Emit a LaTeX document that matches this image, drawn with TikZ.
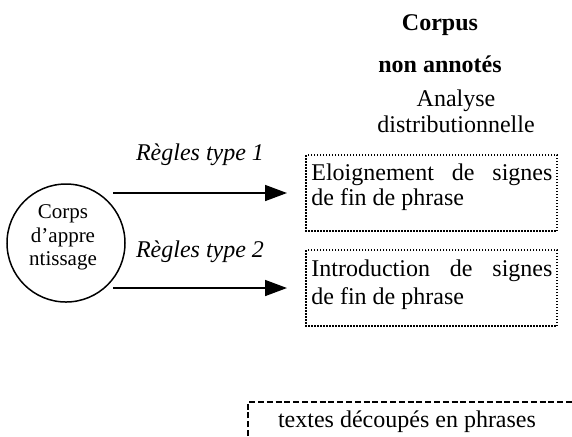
\documentclass[tikz,border=0pt]{standalone}
\usepackage{fontspec}
\setmainfont{Liberation Serif}
\usetikzlibrary{arrows.meta}
\begin{document}
\begin{tikzpicture}[x=0.5pt,y=-0.5pt,
  txt/.style={font=\fontsize{12}{14}\selectfont,inner sep=0pt,anchor=base},
  small/.style={font=\fontsize{10.5}{12}\selectfont,inner sep=0pt,anchor=base},
  dotbox/.style={draw,line width=0.75pt,dash pattern=on 0.75pt off 0.75pt},
  dashline/.style={draw,line width=0.6pt,dash pattern=on 3pt off 1.4pt},
  arr/.style={line width=0.75pt,-{Triangle[length=11pt,width=8pt]}}]
\useasboundingbox (0,0) rectangle (572,436);
% top texts
\node[txt,font=\fontsize{12}{14}\selectfont\bfseries] (corpus) at (440,30) {Corpus};
\node[txt,font=\fontsize{12}{14}\selectfont\bfseries] (nonann) at (440,72) {non annotés};
\node[txt] (analyse) at (456,106) {Analyse};
\node[txt] (distrib) at (456,132) {distributionnelle};
% circle
\node[draw,circle,line width=0.75pt,minimum size=59pt,inner sep=0pt] (corps) at (66,243) {};
\node[small] (c1) at (63,218) {Corps};
\node[small] (c2) at (63,242) {d’appre};
\node[small] (c3) at (63,265) {ntissage};
% arrows
\coordinate (a1s) at (113,193);
\coordinate (a1e) at (287,193);
\coordinate (a2s) at (113,288);
\coordinate (a2e) at (287,288);
\draw[arr] (a1s) -- (a1e);
\draw[arr] (a2s) -- (a2e);
\node[txt,font=\fontsize{12}{14}\selectfont\itshape] (r1) at (200,160) {Règles type 1};
\node[txt,font=\fontsize{12}{14}\selectfont\itshape] (r2) at (200,257) {Règles type 2};
% boxes
\draw[dotbox] (306,155) rectangle (557,231);
\draw[dotbox] (306,250) rectangle (557,326);
\node[txt,anchor=base west] (b1l1) at (311,180) {\makebox[120.5pt][s]{Eloignement\hfill de\hfill signes}};
\node[txt,anchor=base west] (b1l2) at (311,205) {de fin de phrase};
\node[txt,anchor=base west] (b2l1) at (311,276) {\makebox[120.5pt][s]{Introduction\hfill de\hfill signes}};
\node[txt,anchor=base west] (b2l2) at (311,304) {de fin de phrase};
% bottom
\coordinate (bl) at (248,436);
\coordinate (tl) at (248,402);
\coordinate (tr) at (572,402);
\draw[dashline] (bl) -- (tl) -- (tr);
\node[txt] (textes) at (407,427) {textes découpés en phrases};
\end{tikzpicture}
\end{document}
